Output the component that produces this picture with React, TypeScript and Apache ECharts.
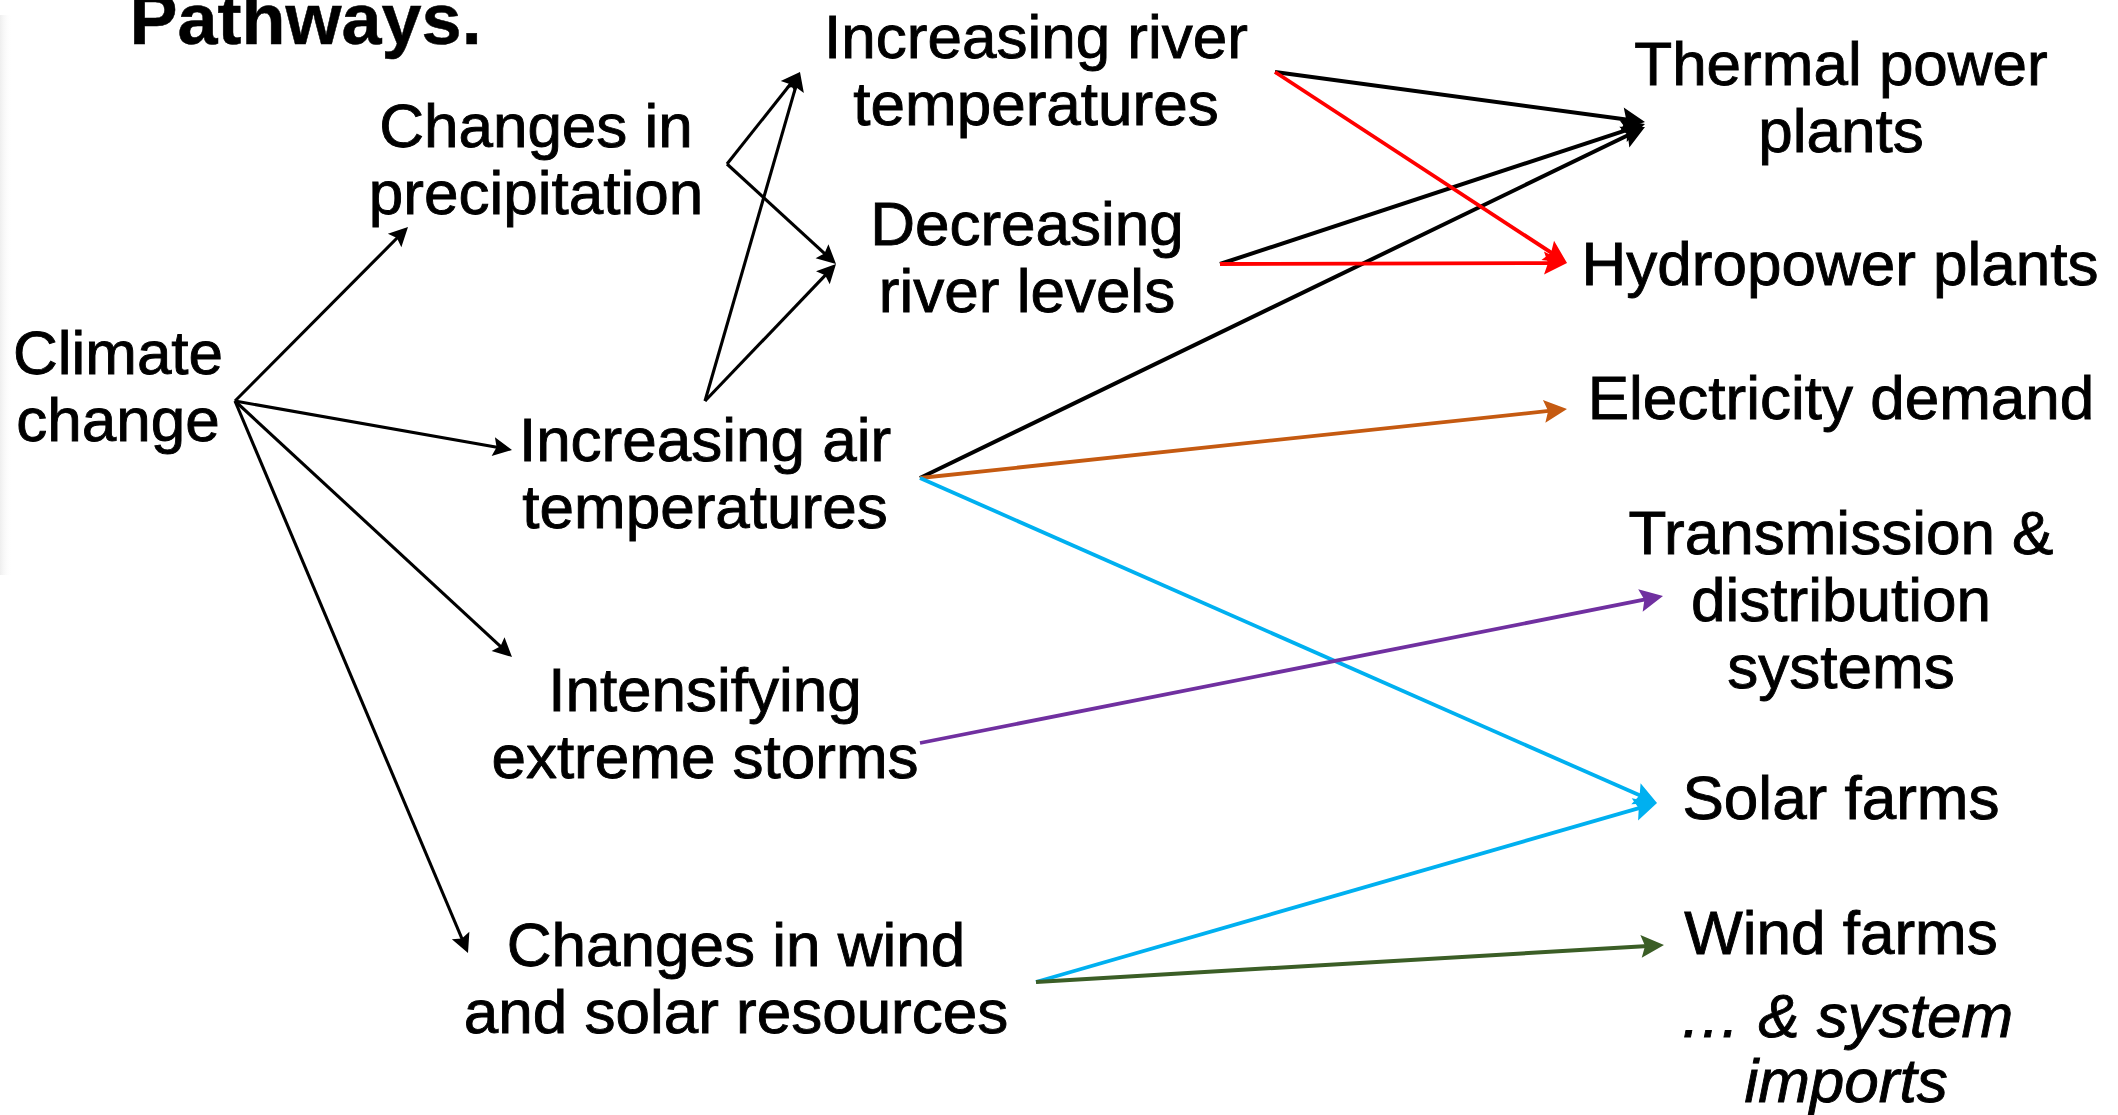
import React, { useEffect, useRef } from "react";
import * as echarts from "echarts";

const W = 2118;
const H = 1115;

// Node texts and their centres (pixel-like data units)
const nodeTexts = [
  "Climate\nchange",
  "Changes in\nprecipitation",
  "Increasing river\ntemperatures",
  "Decreasing\nriver levels",
  "Increasing air\ntemperatures",
  "Intensifying\nextreme storms",
  "Changes in wind\nand solar resources",
  "Thermal power\nplants",
  "Hydropower plants",
  "Electricity demand",
  "Transmission &\ndistribution\nsystems",
  "Solar farms",
  "Wind farms",
];
const nodeX = [118, 536, 1036, 1027, 705, 705, 736, 1841, 1840, 1841, 1841, 1841, 1841];
const nodeY = [386, 159, 70, 257, 473, 723, 978, 97, 263, 397, 599, 797, 932];

const noteText = "\u2026 & system\nimports";
const notePos = [1846, 1048];

const titleText = "Pathways.";
const titlePos = [129, 19];

// Arrows: start point, tip point, colour group
const edgeStart: [number, number][] = [
  [235, 401], [235, 401], [235, 401], [235, 401],
  [727, 164], [727, 164], [705, 401], [705, 401],
  [1275, 72], [1275, 72], [1220, 264], [1220, 264],
  [920, 478], [920, 478], [920, 478],
  [920, 743],
  [1036, 982], [1036, 982],
];
const edgeEnd: [number, number][] = [
  [408, 227], [512, 450], [512, 657], [468, 953],
  [800, 72], [836, 264], [800, 72], [836, 264],
  [1645, 122], [1567, 263], [1645, 124], [1567, 263],
  [1645, 127], [1567, 409], [1657, 803],
  [1663, 596],
  [1657, 803], [1664, 945],
];
const edgeKind = [
  "left", "left", "left", "left",
  "left", "left", "left", "left",
  "black", "red", "black", "red",
  "black", "orange", "cyan",
  "purple",
  "cyan", "green",
];

const kindColor: Record<string, string> = {
  left: "#000000",
  black: "#000000",
  red: "#FF0000",
  orange: "#C55A11",
  cyan: "#00B0F0",
  purple: "#7030A0",
  green: "#3B5E26",
};
const kindWidth: Record<string, number> = {
  left: 3.1, black: 4, red: 3.8, orange: 3.8, cyan: 3.8, purple: 3.8, green: 4,
};

const HEAD = "path://M10,0 L17.5,20 L10,16.5 L2.5,20 Z";
const FONT = "'Liberation Sans', Arial, Helvetica, sans-serif";

function buildLines(kindFilter: (k: string) => boolean, headSize: number) {
  const data: any[] = [];
  edgeStart.forEach((s, i) => {
    const k = edgeKind[i];
    if (!kindFilter(k)) return;
    const e = edgeEnd[i];
    const dx = e[0] - s[0];
    const dy = e[1] - s[1];
    const len = Math.sqrt(dx * dx + dy * dy);
    const back = headSize / 2;
    const end = [e[0] - (dx / len) * back, e[1] - (dy / len) * back];
    data.push({
      coords: [s, end],
      lineStyle: { color: kindColor[k], width: kindWidth[k], opacity: 1 },
      itemStyle: { color: kindColor[k] },
    });
  });
  return data;
}

const textLabel = {
  show: true,
  position: "inside",
  formatter: (p: any) => p.name,
  color: "#000",
  opacity: 1,
  fontFamily: FONT,
  fontSize: 62,
  lineHeight: 67,
  align: "center",
  verticalAlign: "middle",
  textBorderColor: "#000",
  textBorderWidth: 0.9,
};

export default function App() {
  const ref = useRef<HTMLDivElement>(null);
  useEffect(() => {
    if (!ref.current) return;
    const chart = echarts.init(ref.current, undefined, { renderer: "svg" });
    const option: any = {
      animation: false,
      backgroundColor: "#ffffff",
      grid: { left: 0, right: 0, top: 0, bottom: 0 },
      xAxis: { type: "value", min: 0, max: W, show: false },
      yAxis: { type: "value", min: 0, max: H, inverse: true, show: false },
      graphic: [
        {
          type: "rect",
          shape: { x: 0, y: 15, width: 12, height: 560 },
          style: {
            fill: new echarts.graphic.LinearGradient(0, 0, 1, 0, [
              { offset: 0, color: "rgba(225,225,225,0.55)" },
              { offset: 1, color: "rgba(255,255,255,0)" },
            ]),
          },
          z: -1,
        },
      ],
      series: [
        {
          type: "lines",
          coordinateSystem: "cartesian2d",
          symbol: ["none", HEAD],
          symbolSize: [0, 19],
          lineStyle: { opacity: 1 },
          data: buildLines((k) => k === "left", 19),
          z: 3,
        },
        {
          type: "lines",
          coordinateSystem: "cartesian2d",
          symbol: ["none", HEAD],
          symbolSize: [0, 23],
          lineStyle: { opacity: 1 },
          data: buildLines((k) => k === "black", 23),
          z: 3,
        },
        {
          type: "lines",
          coordinateSystem: "cartesian2d",
          symbol: ["none", HEAD],
          symbolSize: [0, 23],
          lineStyle: { opacity: 1 },
          data: buildLines((k) => k !== "left" && k !== "black", 23),
          z: 4,
        },
        {
          type: "scatter",
          symbolSize: 1,
          itemStyle: { color: "rgba(255,255,255,0)" },
          silent: true,
          data: nodeTexts.map((t, i) => ({ value: [nodeX[i], nodeY[i]], name: t })),
          label: textLabel,
          z: 5,
        },
        {
          type: "scatter",
          symbolSize: 1,
          itemStyle: { color: "rgba(255,255,255,0)" },
          silent: true,
          data: [{ value: notePos, name: noteText }],
          label: { ...textLabel, fontStyle: "italic", lineHeight: 65 },
          z: 5,
        },
        {
          type: "scatter",
          symbolSize: 1,
          itemStyle: { color: "rgba(255,255,255,0)" },
          silent: true,
          data: [{ value: titlePos, name: titleText }],
          label: {
            ...textLabel,
            position: "right",
            distance: 0,
            fontWeight: "bold",
            fontSize: 72,
            align: "left",
            textBorderWidth: 0.5,
          },
          z: 5,
        },
      ],
    };
    chart.setOption(option);
    return () => chart.dispose();
  }, []);
  return (
    <div
      ref={ref}
      style={{ position: "fixed", left: 0, top: 0, width: W, height: H, background: "#fff" }}
    />
  );
}
